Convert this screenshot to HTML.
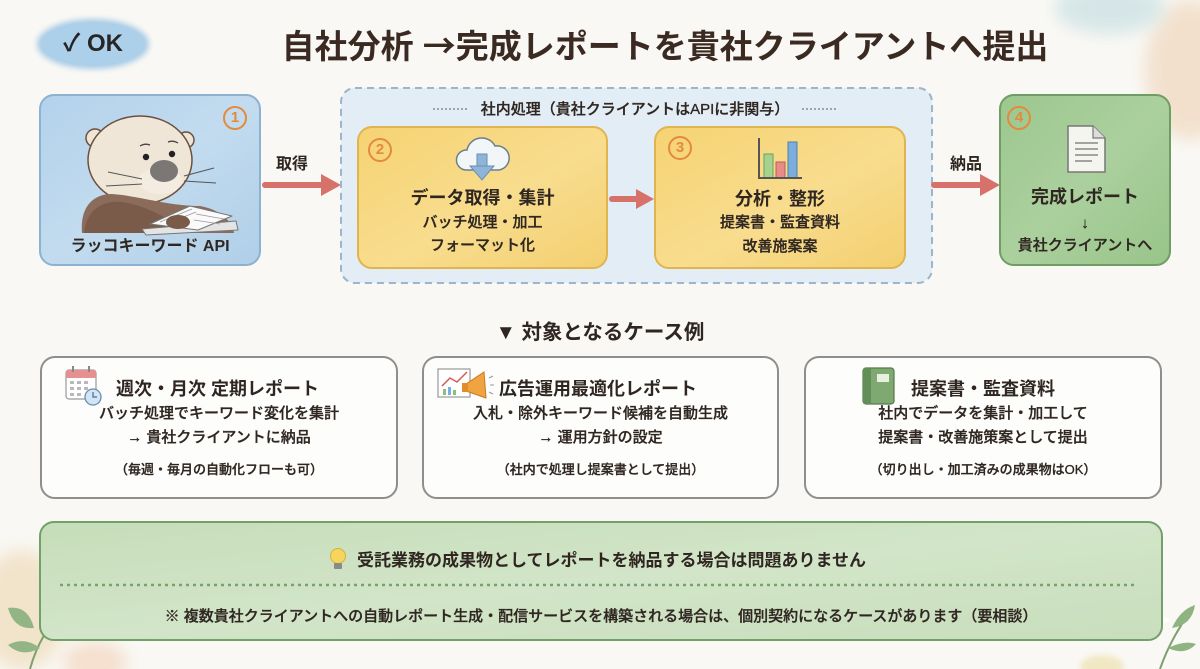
<!DOCTYPE html>
<html lang="ja">
<head>
<meta charset="utf-8">
<style>
  html,body{margin:0;padding:0;}
  body{width:1200px;height:669px;position:relative;overflow:hidden;background:#f9f8f4;
    font-family:"Liberation Sans","Noto Sans CJK JP",sans-serif;color:#2f2621;}
  .t{position:absolute;white-space:nowrap;text-align:center;height:30px;line-height:30px;}
  .b{font-weight:700;}
  .m{font-weight:500;-webkit-text-stroke:0.3px #2f2621;}
  .cjk{font-family:"Noto Sans CJK JP",sans-serif;}
  svg{position:absolute;left:0;top:0;}
</style>
</head>
<body>
<svg width="1200" height="669" viewBox="0 0 1200 669" xmlns="http://www.w3.org/2000/svg">
  <defs>
    <filter id="blur8" x="-50%" y="-50%" width="200%" height="200%"><feGaussianBlur stdDeviation="8"/></filter>
    <filter id="blur3" x="-50%" y="-50%" width="200%" height="200%"><feGaussianBlur stdDeviation="3"/></filter>
    <linearGradient id="gBlue" x1="0" y1="0" x2="1" y2="1">
      <stop offset="0" stop-color="#b3d2eb"/><stop offset="0.5" stop-color="#c2dbef"/><stop offset="1" stop-color="#b0cfe8"/>
    </linearGradient>
    <linearGradient id="gYellow" x1="0" y1="0" x2="1" y2="1">
      <stop offset="0" stop-color="#f6d373"/><stop offset="0.55" stop-color="#f8dd8e"/><stop offset="1" stop-color="#f3cf70"/>
    </linearGradient>
    <linearGradient id="gGreen" x1="0" y1="0" x2="1" y2="1">
      <stop offset="0" stop-color="#9cc78e"/><stop offset="0.5" stop-color="#abd09e"/><stop offset="1" stop-color="#98c489"/>
    </linearGradient>
    <linearGradient id="gSage" x1="0" y1="0" x2="1" y2="1">
      <stop offset="0" stop-color="#c6ddb9"/><stop offset="0.5" stop-color="#d2e5c8"/><stop offset="1" stop-color="#c8debc"/>
    </linearGradient>
  </defs>

  <!-- background decorations -->
  <ellipse cx="1190" cy="70" rx="45" ry="70" fill="#f1dbc4" opacity="0.8" filter="url(#blur8)"/>
  <ellipse cx="1110" cy="8" rx="55" ry="26" fill="#d3e5e6" opacity="0.9" filter="url(#blur8)"/>
  <ellipse cx="22" cy="610" rx="45" ry="60" fill="#f1e2c7" opacity="0.9" filter="url(#blur8)"/>
  <ellipse cx="95" cy="662" rx="32" ry="20" fill="#f4d9c4" opacity="0.8" filter="url(#blur8)"/>
  <ellipse cx="1102" cy="667" rx="22" ry="12" fill="#f1e6bf" opacity="0.9" filter="url(#blur3)"/>
  <!-- bottom-left sprig -->
  <g fill="#93b585" stroke="none">
    <path d="M30 669 Q38 640 55 620" stroke="#7f9f70" stroke-width="2" fill="none"/>
    <path d="M8 608 Q28 605 34 628 Q14 630 8 608 Z"/>
    <path d="M44 625 Q40 605 48 592 Q58 610 44 625 Z"/>
    <path d="M8 645 Q24 636 40 648 Q22 658 8 645 Z"/>
    <path d="M56 640 Q60 625 68 618 Q70 635 56 640 Z"/>
  </g>
  <!-- bottom-right sprig -->
  <g fill="#8fb381">
    <path d="M1160 669 Q1170 640 1190 612" stroke="#7f9f70" stroke-width="2" fill="none"/>
    <path d="M1172 628 Q1180 610 1195 605 Q1192 625 1172 628 Z"/>
    <path d="M1168 648 Q1185 640 1196 644 Q1185 656 1168 648 Z"/>
    <path d="M1148 640 Q1150 622 1160 615 Q1164 632 1148 640 Z"/>
  </g>
  <path d="M1152 600 Q1156 616 1172 620 Q1156 624 1152 640 Q1148 624 1132 620 Q1148 616 1152 600 Z" fill="#ffffff" opacity="0.95"/>

  <!-- OK pill -->
  <ellipse cx="93" cy="44" rx="56" ry="25" fill="#a9cbe6" filter="url(#blur3)"/>
  <ellipse cx="93" cy="44" rx="52" ry="22" fill="#acd0ea"/>

  <!-- Box 1 -->
  <rect x="40" y="95" width="220" height="170" rx="14" fill="url(#gBlue)" stroke="#8db2d1" stroke-width="2"/>
  <circle cx="235" cy="118" r="11" fill="none" stroke="#e38a3c" stroke-width="2"/>
  <!-- otter -->
  <g stroke-linejoin="round">
    <circle cx="95" cy="138" r="9" fill="#efe4d5" stroke="#6b5040" stroke-width="1.5"/>
    <circle cx="186" cy="140" r="8" fill="#efe4d5" stroke="#6b5040" stroke-width="1.5"/>
    <ellipse cx="140" cy="160" rx="52" ry="44" fill="#f0e6d8" stroke="#6b5040" stroke-width="1.5"/>
    <path d="M82 233 C80 208 92 194 112 194 C140 196 168 206 200 206 C222 210 232 222 234 233 Z" fill="#8b6b5a"/>
    <path d="M84 233 C86 212 100 200 122 202 C142 205 160 214 176 224 L172 233 Z" fill="#7a5b4a"/>
    <ellipse cx="160" cy="181" rx="22" ry="13" fill="#f4ece1"/>
    <ellipse cx="164" cy="171" rx="14" ry="11" fill="#7a7775"/>
    <circle cx="146" cy="157" r="3.2" fill="#222"/>
    <circle cx="172" cy="154" r="3.2" fill="#222"/>
    <path d="M140 146 Q145 143 150 145" stroke="#444" stroke-width="1.3" fill="none"/>
    <path d="M168 142 Q173 140 178 143" stroke="#444" stroke-width="1.3" fill="none"/>
    <g stroke="#555" stroke-width="1" fill="none">
      <path d="M142 179 L108 172"/><path d="M142 184 L106 186"/>
      <path d="M184 176 L214 168"/><path d="M184 181 L216 183"/>
    </g>
    <path d="M142 229 L236 221 L238 230 L146 235 Z" fill="#e4e4e4" stroke="#777" stroke-width="1"/>
    <path d="M150 224 L190 206 L232 216 L198 230 Z" fill="#fafafa" stroke="#777" stroke-width="1"/>
    <g stroke="#999" stroke-width="0.8">
      <path d="M160 222 L192 209"/><path d="M166 224 L196 212"/><path d="M196 214 L224 219"/><path d="M194 220 L220 224"/>
    </g>
    <ellipse cx="178" cy="222" rx="12" ry="7" fill="#7a5b4a"/>
  </g>

  <!-- arrow 取得 -->
  <path d="M265 185 L326 185" stroke="#d7726a" stroke-width="6" stroke-linecap="round"/>
  <path d="M321 174 L341 185 L321 196 Z" fill="#d7726a"/>

  <!-- dashed container -->
  <rect x="341" y="88" width="591" height="195" rx="14" fill="#e3edf5" stroke="#9db5c8" stroke-width="2" stroke-dasharray="7 5"/>
  <path d="M433 109 L467 109" stroke="#777" stroke-width="1.2" stroke-dasharray="2 2"/>
  <path d="M802 109 L837 109" stroke="#777" stroke-width="1.2" stroke-dasharray="2 2"/>

  <!-- Box 2 -->
  <rect x="358" y="127" width="249" height="141" rx="14" fill="url(#gYellow)" stroke="#e0b550" stroke-width="2"/>
  <circle cx="380" cy="150" r="11" fill="none" stroke="#e38a3c" stroke-width="2"/>
  <path d="M466 170 a10 10 0 0 1 1 -20 a15 15 0 0 1 28 -4 a11 11 0 0 1 4 24 Z" fill="#f3f6f9" stroke="#6b7f8d" stroke-width="1.5"/>
  <rect x="477" y="154" width="10" height="13" fill="#8fb4d8" stroke="#6a8fb4" stroke-width="1"/>
  <path d="M470 166 L494 166 L482 180 Z" fill="#8fb4d8" stroke="#6a8fb4" stroke-width="1"/>

  <!-- arrow 2->3 -->
  <path d="M612 199 L640 199" stroke="#d7726a" stroke-width="6" stroke-linecap="round"/>
  <path d="M636 189 L654 199 L636 209 Z" fill="#d7726a"/>

  <!-- Box 3 -->
  <rect x="655" y="127" width="250" height="141" rx="14" fill="url(#gYellow)" stroke="#e0b550" stroke-width="2"/>
  <circle cx="680" cy="148" r="11" fill="none" stroke="#e38a3c" stroke-width="2"/>
  <rect x="764" y="154" width="9" height="24" fill="#a3d38d" stroke="#6f9c63" stroke-width="1"/>
  <rect x="776" y="162" width="9" height="16" fill="#e98b87" stroke="#b5605c" stroke-width="1"/>
  <rect x="788" y="142" width="9" height="36" fill="#7badde" stroke="#4f7fae" stroke-width="1"/>
  <path d="M759 138 L759 178 L802 178" stroke="#555" stroke-width="2" fill="none"/>

  <!-- arrow 納品 -->
  <path d="M934 185 L984 185" stroke="#d7726a" stroke-width="6" stroke-linecap="round"/>
  <path d="M980 174 L1000 185 L980 196 Z" fill="#d7726a"/>

  <!-- Box 4 -->
  <rect x="1000" y="95" width="170" height="170" rx="14" fill="url(#gGreen)" stroke="#6f9d64" stroke-width="2"/>
  <circle cx="1019" cy="118" r="11" fill="none" stroke="#e38a3c" stroke-width="2"/>
  <path d="M1068 126 L1093 126 L1105 138 L1105 172 L1068 172 Z" fill="#f5f5f0" stroke="#777" stroke-width="1.5"/>
  <path d="M1093 126 L1093 138 L1105 138" fill="#ddd" stroke="#777" stroke-width="1.2"/>
  <g stroke="#888" stroke-width="1.5">
    <path d="M1075 143 L1098 143"/><path d="M1075 149 L1098 149"/><path d="M1075 155 L1098 155"/><path d="M1075 161 L1092 161"/>
  </g>

  <!-- cards -->
  <rect x="41" y="357" width="356" height="141" rx="14" fill="#fdfdfb" stroke="#8e8e8e" stroke-width="2"/>
  <rect x="423" y="357" width="355" height="141" rx="14" fill="#fdfdfb" stroke="#8e8e8e" stroke-width="2"/>
  <rect x="805" y="357" width="356" height="141" rx="14" fill="#fdfdfb" stroke="#8e8e8e" stroke-width="2"/>

  <!-- calendar icon -->
  <rect x="66" y="370" width="30" height="29" rx="3" fill="#fff" stroke="#9a9a9a" stroke-width="1.2"/>
  <rect x="66" y="370" width="30" height="8" rx="2" fill="#e69090"/>
  <rect x="72" y="366" width="2" height="6" fill="#888"/><rect x="88" y="366" width="2" height="6" fill="#888"/>
  <g fill="#b9b9b9">
    <rect x="70" y="381" width="4" height="3"/><rect x="77" y="381" width="4" height="3"/><rect x="84" y="381" width="4" height="3"/>
    <rect x="70" y="387" width="4" height="3"/><rect x="77" y="387" width="4" height="3"/><rect x="84" y="387" width="4" height="3"/>
    <rect x="70" y="393" width="4" height="3"/><rect x="77" y="393" width="4" height="3"/>
  </g>
  <circle cx="93" cy="397" r="8" fill="#d2e5f6" stroke="#6b8db0" stroke-width="1.3"/>
  <path d="M93 392 L93 397 L97 397" stroke="#4a6a8a" stroke-width="1.2" fill="none"/>

  <!-- card2 icon -->
  <rect x="438" y="369" width="32" height="28" fill="#fff" stroke="#999" stroke-width="1.2"/>
  <path d="M442 386 L450 378 L457 382 L467 372" stroke="#d55a55" stroke-width="1.5" fill="none"/>
  <rect x="443" y="389" width="3" height="6" fill="#8cc07a"/><rect x="448" y="387" width="3" height="8" fill="#7aaede"/><rect x="453" y="390" width="3" height="5" fill="#8cc07a"/>
  <path d="M466 384 L484 372 L486 398 L466 391 Z" fill="#f1a341" stroke="#c77a20" stroke-width="1"/>
  <rect x="462" y="383" width="6" height="9" fill="#e28d2c"/>
  <g stroke="#999" stroke-width="1"><path d="M489 378 L493 376"/><path d="M490 385 L494 385"/><path d="M489 392 L493 394"/></g>

  <!-- binder icon -->
  <rect x="863" y="368" width="31" height="36" rx="3" fill="#7ea970" stroke="#557a4c" stroke-width="1.2"/>
  <rect x="863" y="368" width="8" height="36" rx="2" fill="#628f57"/>
  <rect x="877" y="374" width="12" height="8" fill="#e9f0e2"/>

  <!-- bottom sage box -->
  <rect x="40" y="522" width="1122" height="118" rx="14" fill="url(#gSage)" stroke="#72a06b" stroke-width="2"/>
  <path d="M60 585 L1138 585" stroke="#77a26e" stroke-width="2.5" stroke-dasharray="3 4"/>
  <circle cx="338" cy="556" r="7.5" fill="#f6d55c" stroke="#d6b03a" stroke-width="1"/>
  <rect x="334" y="563" width="8" height="6" rx="1" fill="#8a8a8a"/>
</svg>

<!-- Text layer -->
<div class="t b" style="left:38px;width:110px;top:29px;font-size:24px;color:#262626;">✓ OK</div>
<div class="t b" style="left:240px;width:850px;top:18px;height:52px;line-height:52px;font-size:33px;color:#3a2a22;">自社分析 <span class="cjk">→</span>完成レポートを貴社クライアントへ提出</div>

<div class="t b" style="left:222px;width:26px;top:103px;font-size:15px;color:#e38a3c;">1</div>
<div class="t b" style="left:40px;width:220px;top:232px;font-size:16px;">ラッコキーワード API</div>

<div class="t b" style="left:262px;width:60px;top:150px;font-size:16px;">取得</div>
<div class="t m" style="left:460px;width:350px;top:95px;font-size:15px;">社内処理（貴社クライアントはAPIに非関与）</div>

<div class="t b" style="left:367px;width:26px;top:135px;font-size:15px;color:#e38a3c;">2</div>
<div class="t b" style="left:358px;width:249px;top:183px;font-size:18px;">データ取得・集計</div>
<div class="t m" style="left:358px;width:249px;top:208px;font-size:15px;">バッチ処理・加工</div>
<div class="t m" style="left:358px;width:249px;top:231px;font-size:15px;">フォーマット化</div>

<div class="t b" style="left:667px;width:26px;top:133px;font-size:15px;color:#e38a3c;">3</div>
<div class="t b" style="left:655px;width:250px;top:184px;font-size:18px;">分析・整形</div>
<div class="t m" style="left:655px;width:250px;top:208px;font-size:15px;">提案書・監査資料</div>
<div class="t m" style="left:655px;width:250px;top:232px;font-size:15px;">改善施案案</div>

<div class="t b" style="left:936px;width:60px;top:150px;font-size:16px;">納品</div>

<div class="t b" style="left:1006px;width:26px;top:103px;font-size:15px;color:#e38a3c;">4</div>
<div class="t b" style="left:1000px;width:170px;top:182px;font-size:18px;">完成レポート</div>
<div class="t m" style="left:1000px;width:170px;top:209px;font-size:15px;">↓</div>
<div class="t m" style="left:1000px;width:170px;top:231px;font-size:15px;">貴社クライアントへ</div>

<div class="t b" style="left:400px;width:400px;top:318px;font-size:20.5px;">▼ 対象となるケース例</div>

<div class="t b" style="left:116px;top:374px;font-size:18px;text-align:left;">週次・月次 定期レポート</div>
<div class="t m" style="left:41px;width:356px;top:399px;font-size:15px;">バッチ処理でキーワード変化を集計</div>
<div class="t m" style="left:41px;width:356px;top:423px;font-size:15px;">→ 貴社クライアントに納品</div>
<div class="t m" style="left:41px;width:356px;top:455px;font-size:13px;">（毎週・毎月の自動化フローも可）</div>

<div class="t b" style="left:499px;top:374px;font-size:18px;text-align:left;">広告運用最適化レポート</div>
<div class="t m" style="left:423px;width:355px;top:399px;font-size:15px;">入札・除外キーワード候補を自動生成</div>
<div class="t m" style="left:423px;width:355px;top:423px;font-size:15px;">→ 運用方針の設定</div>
<div class="t m" style="left:423px;width:355px;top:455px;font-size:13px;">（社内で処理し提案書として提出）</div>

<div class="t b" style="left:911px;top:374px;font-size:18px;text-align:left;">提案書・監査資料</div>
<div class="t m" style="left:805px;width:356px;top:399px;font-size:15px;">社内でデータを集計・加工して</div>
<div class="t m" style="left:805px;width:356px;top:423px;font-size:15px;">提案書・改善施策案として提出</div>
<div class="t m" style="left:805px;width:356px;top:455px;font-size:13px;">（切り出し・加工済みの成果物はOK）</div>

<div class="t b" style="left:357px;top:546px;font-size:17px;text-align:left;">受託業務の成果物としてレポートを納品する場合は問題ありません</div>
<div class="t m" style="left:40px;width:1122px;top:602px;font-size:15px;">※ 複数貴社クライアントへの自動レポート生成・配信サービスを構築される場合は、個別契約になるケースがあります（要相談）</div>
</body>
</html>
